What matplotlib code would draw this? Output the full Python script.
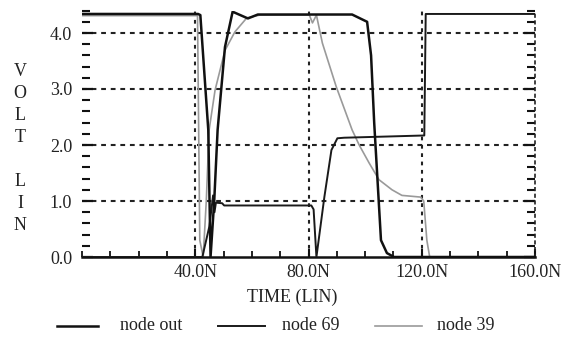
import matplotlib
matplotlib.use("Agg")
import matplotlib.pyplot as plt
from matplotlib.lines import Line2D
from matplotlib.ticker import MultipleLocator, FixedLocator

# ---- data (time in ns, voltage in V) ----
out_t = [0, 41.0, 41.8, 44.6, 45.4, 46.7, 47.9, 50.5, 53.2, 58.6, 62.1, 95.4, 100.7, 102.1, 103.2, 105.6, 107.7, 110.2, 160]
out_v = [4.34, 4.34, 4.32, 2.27, 0.0, 1.0, 2.27, 3.75, 4.38, 4.26, 4.33, 4.33, 4.2, 3.6, 2.4, 0.3, 0.07, 0.0, 0.0]

n69_t = [0, 42.5, 45.0, 46.3, 46.8, 47.3, 49.5, 50.2, 81.0, 81.8, 82.8, 85.6, 88.1, 90.2, 92.6, 120.9, 121.4, 160]
n69_v = [0.0, 0.0, 0.55, 1.1, 0.8, 0.97, 0.96, 0.92, 0.92, 0.85, 0.0, 1.07, 1.91, 2.12, 2.13, 2.17, 4.34, 4.34]

n39_t = [0, 40.8, 41.6, 42.8, 43.9, 44.9, 47.0, 50.5, 54.0, 58.2, 62.8, 80.3, 81.4, 82.8, 84.9, 89.8, 95.4, 97.9, 101.4, 104.9, 109.5, 113.0, 119.6, 120.7, 121.8, 122.8, 160]
n39_v = [4.31, 4.31, 0.3, 0.0, 1.0, 2.27, 2.98, 3.69, 4.02, 4.27, 4.32, 4.32, 4.18, 4.32, 3.82, 3.04, 2.27, 2.0, 1.68, 1.38, 1.2, 1.1, 1.07, 1.0, 0.3, 0.0, 0.0]

x_ticks = [40, 80, 120, 160]
x_labels = ["40.0N", "80.0N", "120.0N", "160.0N"]
y_ticks = [0, 1, 2, 3, 4]
y_labels = ["0.0", "1.0", "2.0", "3.0", "4.0"]
legend_labels = ["node out", "node 69", "node 39"]

SERIF = ["Liberation Serif", "DejaVu Serif"]
plt.rcParams['font.family'] = SERIF
FS = 13

fig = plt.figure(figsize=(5.64, 3.40), dpi=100)
W, H = 564, 340
x0, x1 = 82, 535
y0, y1 = 257, 10.6
ax = fig.add_axes([x0 / W, 1 - y0 / H, (x1 - x0) / W, (y0 - y1) / H])
ax.set_xlim(0, 160)
ax.set_ylim(0, 4.4)

# grid
for yv in [1, 2, 3, 4]:
    ax.axhline(yv, color="#222222", lw=1.5, ls=(0, (2.3, 2.3)), zorder=1)
for xv in [40, 80, 120]:
    ax.axvline(xv, color="#222222", lw=1.5, ls=(0, (1.8, 2.2)), zorder=1)

ax.plot(n39_t, n39_v, color="#9a9a9a", lw=1.2, zorder=2)
ax.plot(n69_t, n69_v, color="#1a1a1a", lw=1.4, zorder=3)
ax.plot(out_t, out_v, color="#111111", lw=1.8, zorder=4)

for s in ["top", "left"]:
    ax.spines[s].set_visible(False)
ax.spines["bottom"].set_linewidth(1.8)
ax.spines["bottom"].set_color("#111111")
ax.spines["right"].set_linewidth(1.2)
ax.spines["right"].set_linestyle((0, (1.5, 2.5)))
ax.spines["right"].set_color("#222222")

ax.xaxis.set_major_locator(FixedLocator(x_ticks))
ax.set_xticklabels(x_labels)
ax.xaxis.set_minor_locator(MultipleLocator(10))
ax.yaxis.set_major_locator(FixedLocator(y_ticks))
ax.set_yticklabels(y_labels)
ax.yaxis.set_minor_locator(MultipleLocator(0.2))

ax.tick_params(axis="x", which="both", direction="in", colors="#111111", labelsize=FS, pad=5)
ax.tick_params(axis="x", which="major", length=6, width=1.5)
ax.tick_params(axis="x", which="minor", length=4, width=1.3)
ax.tick_params(axis="y", which="both", direction="in", left=True, right=True, colors="#111111", labelsize=FS, pad=7)
ax.tick_params(axis="y", which="major", length=8, width=1.6)
ax.tick_params(axis="y", which="minor", length=6, width=1.5)
for lab in ax.get_xticklabels() + ax.get_yticklabels():
    lab.set_color("#222222")

# vertical stacked y-label
for i, ch in enumerate(["V", "O", "L", "T", "", "L", "I", "N"]):
    if ch:
        fig.text(20 / W, 1 - (72 + 22 * i) / H, ch, ha="center", va="center", fontsize=FS, color="#222222")

fig.text(292 / W, 1 - 297 / H, "TIME (LIN)", ha="center", va="center", fontsize=FS, color="#222222")

# legend
leg = [((57, 98), 120, "#111111", 1.8), ((218, 265), 282, "#1a1a1a", 1.4), ((375, 422), 437, "#9a9a9a", 1.2)]
for (lx, tx, c, lw), lab in zip(leg, legend_labels):
    ly = 1 - 326 / H
    fig.add_artist(Line2D([lx[0] / W, lx[1] / W], [ly, ly], color=c, lw=lw, transform=fig.transFigure))
    fig.text(tx / W, ly, lab, ha="left", va="center", fontsize=FS, color="#222222")

fig.savefig("out.png", dpi=100, facecolor="white")
